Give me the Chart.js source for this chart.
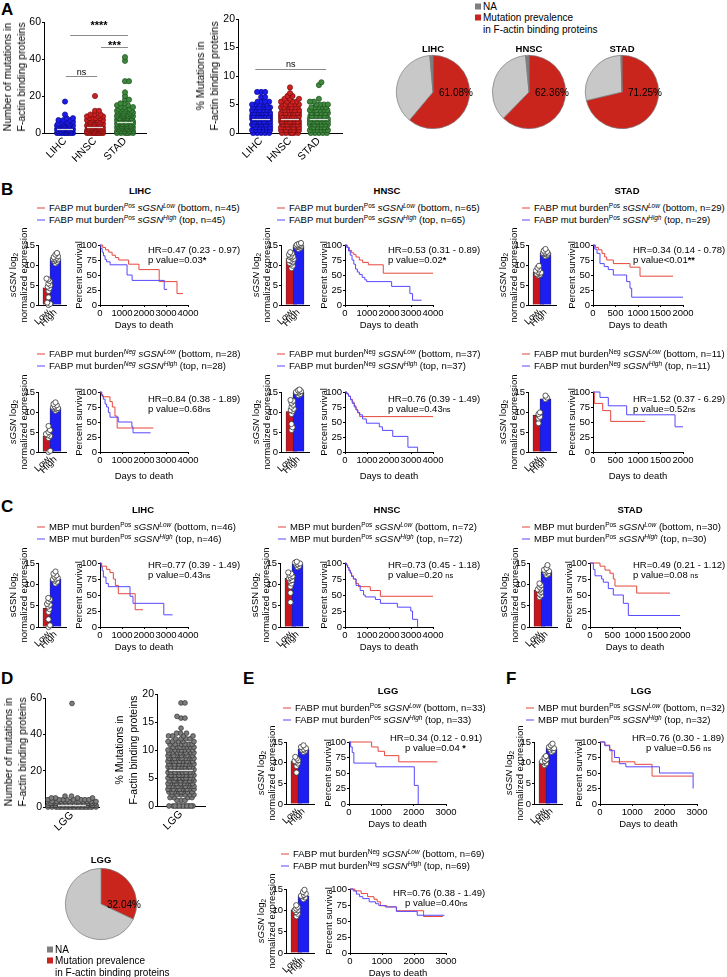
<!DOCTYPE html>
<html>
<head>
<meta charset="utf-8">
<script src="https://cdn.jsdelivr.net/npm/chart.js@4.4.1/dist/chart.umd.min.js"></script>
<style>
  body { margin: 0; background: #fff; }
  #page { position: relative; width: 727px; height: 977px; overflow: hidden; font-family: "Liberation Sans", Arial, Helvetica, sans-serif; color: #000; }
  #page canvas { position: absolute; }
  .t { position: absolute; white-space: nowrap; font-size: 9.5px; line-height: 11px; }
  .t sup { font-size: 6.5px; line-height: 0; vertical-align: 3px; }
  .t sub { font-size: 6.5px; line-height: 0; vertical-align: -2px; }
  .sw { display: inline-block; width: 8px; height: 1px; vertical-align: middle; margin-right: 4px; }
  .sq { display: inline-block; width: 6px; height: 6px; margin-right: 2px; }
  .b { font-weight: bold; }
  .L { font-weight: bold; font-size: 17px; line-height: 17px; }
  .ns { font-size: 7.5px; }
  .st { font-weight: bold; font-size: 9px; }
</style>
</head>
<body>
<div id="page"></div>
<script>
// ---------- data ----------
// panel A: number of mutations (value, how many samples)
const catsA = ['LIHC', 'HNSC', 'STAD'];
const lihcMutCounts = [[0,10],[1,14],[2,13],[3,11],[4,8],[5,6],[6,4],[7,3],[8,2],[10,1],[17,1]];
const hnscMutCounts = [[0,12],[1,18],[2,16],[3,14],[4,11],[5,8],[6,6],[7,5],[8,4],[9,3],[10,3],[12,2],[20,1]];
const stadMutCounts = [[0,6],[1,10],[2,11],[3,12],[4,12],[5,11],[6,10],[7,9],[8,8],[9,7],[10,7],[11,6],[12,5],[13,4],[14,3],[15,2],[16,2],[18,2],[20,1],[22,1],[28,2],[39,1],[41,1]];
// panel A: % mutations
const lihcPctCounts = [[0,5],[0.5,6],[1,10],[1.5,12],[2,14],[2.5,14],[3,13],[3.5,12],[4,9],[4.5,7],[5,5],[5.5,4],[6.3,2],[7.2,3]];
const hnscPctCounts = [[0,6],[0.5,8],[1,12],[1.5,14],[2,15],[2.5,15],[3,14],[3.5,12],[4,10],[4.5,8],[5,6],[5.5,4],[6,3],[6.5,2],[7,1],[8,1]];
const stadPctCounts = [[0,5],[0.5,6],[1,9],[1.5,10],[2,11],[2.5,10],[3,9],[3.5,8],[4,6],[4.5,5],[5,4],[5.5,2],[6,1],[8.4,1],[8.9,1]];
// pies: mutation prevalence, no mutation, NA
const pieLabels = ['Mutation prevalence', 'No mutation', 'NA'];
const pieLihc = [61.08, 37.52, 1.40];
const pieHnsc = [62.36, 36.14, 1.50];
const pieStad = [71.25, 28.25, 0.50];
const pieLgg = [32.04, 67.96, 0];
// panel D (LGG)
const catsD = ['LGG'];
const lggMutCounts = [[0,22],[1,30],[2,22],[3,14],[4,8],[5,4],[6,2],[57,1]];
const lggPctCounts = [[0,12],[1,3],[1.5,4],[2,6],[2.5,8],[3,10],[3.5,10],[4,11],[4.5,12],[5,13],[5.5,13],[6,13],[6.5,13],[7,13],[7.5,12],[8,12],[8.5,11],[9,10],[9.5,8],[10,8],[10.5,7],[11,6],[11.5,5],[12,4],[12.5,4],[13,3],[13.9,1],[15.7,2],[16,1],[18.4,2]];

// sGSN expression: bar means [Low, High] and individual samples
const barLabels = ['Low', 'High'];
const b1LihcMeans = [4.3, 11.5];
const b1LihcLow = [0,0.3,0.6,1.9,3.5,4.2,4.6,5,5.4,6,6.4,6.6];
const b1LihcHigh = [10.4,10.8,11,11.2,11.4,11.5,11.6,11.8,12,12.2,12.6,13];
const b1HnscMeans = [11.6, 14.8];
const b1HnscLow = [9.2,9.8,10.3,10.5,10.8,11,11.2,11.5,11.8,12,12.1,12.3,12.6,12.9,13.2];
const b1HnscHigh = [14,14.3,14.5,14.6,14.7,14.8,14.9,15,15.1,15.3,15.5];
const b1StadMeans = [8.2, 12.9];
const b1StadLow = [7.4,7.6,7.8,8,8.1,8.3,8.6,8.9,9.3,9.8];
const b1StadHigh = [12.2,12.5,12.7,12.8,12.9,13,13.1,13.3,13.6,14];
const b2LihcMeans = [4.0, 11.0];
const b2LihcLow = [0,0.3,3.5,4,4.2,4.5,5,5.5,6.5];
const b2LihcHigh = [10.3,10.6,10.8,10.9,11,11.2,11.4,11.7,12,12.4];
const b2HnscMeans = [10.1, 15.0];
const b2HnscLow = [5.5,6.2,7,9.5,10.2,10.5,10.8,11.3,11.8,12.3,12.8,13];
const b2HnscHigh = [14.2,14.5,14.8,14.9,15,15.2,15.4,15.6];
const b2StadMeans = [9.2, 13.3];
const b2StadLow = [7.2,8.4,8.8,9.5,9.9];
const b2StadHigh = [13.2,13.6,14.1];
const cLihcMeans = [4.4, 11.3];
const cLihcLow = [0,0.4,1.8,3.5,4.2,4.8,5.2,5.4,6,6.5,6.8];
const cLihcHigh = [10.2,10.6,10.9,11.2,11.3,11.5,11.8,12.1,12.5,13];
const cHnscMeans = [11.4, 14.8];
const cHnscLow = [5.8,8,9.5,10.2,10.8,11,11.4,11.6,11.9,12.2,12.5,12.8];
const cHnscHigh = [14,14.3,14.6,14.7,14.9,15.1,15.3];
const cStadMeans = [8.6, 13.0];
const cStadLow = [7,7.4,7.8,8.2,8.6,8.8,9,9.4,9.8,10.2];
const cStadHigh = [12.2,12.5,12.8,13,13.1,13.4,13.8,14.5];
const eTopMeans = [10.4, 13.2];
const eTopLow = [7.6,9.2,9.8,10.2,10.4,10.6,11,11.4];
const eTopHigh = [12.6,12.9,13.1,13.2,13.5,13.8,14.2];
const eBotMeans = [10.1, 13.4];
const eBotLow = [8.6,9.2,9.6,10,10.1,10.4,10.8,11.2];
const eBotHigh = [12.6,13,13.3,13.4,13.6,13.9,14.3,14.8];
const fMeans = [10.3, 13.5];
const fLow = [9.4,9.8,10.1,10.3,10.4,10.8,11.2,11.6];
const fHigh = [12.6,12.9,13.2,13.5,13.5,13.8,14.2,14.6];

// Kaplan-Meier steps [days, percent survival]
const kmB1LihcLow = [[0,100],[120,96],[250,92],[400,88],[550,83],[700,79],[850,75],[1300,68],[1770,59],[2690,39],[3500,19],[3770,19]];
const kmB1LihcHigh = [[0,100],[40,94],[100,88],[160,82],[230,76],[300,72],[460,67],[1230,50],[1460,41],[2920,26],[3050,26]];
const kmB1HnscLow = [[0,100],[100,96],[200,91],[300,87],[400,84],[500,80],[650,75],[800,71],[1060,67],[1740,53],[4000,53]];
const kmB1HnscHigh = [[0,100],[80,96],[160,90],[240,83],[320,75],[400,68],[480,60],[560,55],[650,51],[780,46],[900,42],[985,39],[2120,31],[2950,19],[3070,8],[3480,8]];
const kmB1StadLow = [[0,100],[50,96],[120,92],[200,86],[260,80],[304,75],[452,69],[822,63],[1045,48],[1780,48]];
const kmB1StadHigh = [[0,100],[40,93],[90,86],[155,69],[250,64],[340,59],[452,50],[748,39],[822,28],[860,13],[2000,13]];
const kmB2LihcLow = [[0,100],[60,96],[120,92],[455,84],[560,75],[680,60],[780,40],[2420,40]];
const kmB2LihcHigh = [[0,100],[80,94],[150,88],[230,80],[300,75],[380,66],[455,58],[830,50],[1450,42],[1500,32],[2300,32]];
const kmB2HnscLow = [[0,100],[80,97],[160,93],[250,88],[330,83],[420,77],[500,71],[580,65],[667,59],[4000,59]];
const kmB2HnscHigh = [[0,100],[80,97],[160,93],[250,87],[330,81],[420,75],[500,70],[580,66],[667,62],[800,55],[970,48],[1560,42],[1700,36],[2170,26],[2860,8],[3300,0]];
const kmB2StadLow = [[0,100],[30,81],[215,69],[393,51],[1156,51]];
const kmB2StadHigh = [[0,100],[155,91],[340,77],[748,62],[1823,42],[2000,42]];
const kmCLihcLow = [[0,100],[76,95],[303,90],[455,85],[606,75],[700,65],[833,52],[1600,27],[1950,27]];
const kmCLihcHigh = [[0,100],[50,94],[100,88],[152,78],[273,68],[379,63],[1364,48],[1500,37],[2900,19],[3300,19]];
const kmCHnscLow = [[0,100],[60,97],[120,93],[180,89],[240,85],[300,80],[383,75],[500,68],[613,63],[1150,57],[1610,48],[4000,48]];
const kmCHnscHigh = [[0,100],[60,97],[120,93],[180,88],[240,84],[300,79],[383,75],[500,65],[690,57],[843,50],[920,47],[1380,43],[1610,37],[2380,31],[2990,25],[3070,12],[3300,0]];
const kmCStadLow = [[0,100],[222,95],[333,89],[444,84],[518,75],[555,64],[1037,53],[1778,53]];
const kmCStadHigh = [[0,100],[74,90],[111,80],[259,75],[296,70],[407,60],[518,50],[741,37],[852,18],[2000,18]];
const kmETopLow = [[0,100],[600,100],[700,92],[900,85],[1100,78],[1540,68],[2730,68]];
const kmETopHigh = [[0,100],[50,92],[100,83],[150,66],[830,60],[2020,30],[2140,0]];
const kmEBotLow = [[0,100],[150,97],[350,93],[550,88],[750,84],[850,80],[950,74],[1150,72],[1450,66],[2300,57],[2900,57]];
const kmEBotHigh = [[0,100],[100,97],[200,92],[300,88],[400,85],[600,80],[800,77],[900,74],[1100,72],[1450,65],[2100,59],[2950,59]];
const kmFLow = [[0,100],[150,95],[300,88],[370,68],[1080,64],[1610,45],[2870,45]];
const kmFHigh = [[0,100],[150,94],[300,86],[450,75],[600,65],[800,60],[1840,50],[2870,50],[2880,25]];

// ---------- style ----------
const RED_BAR = '#c9161e', BLUE_BAR = '#1e1ef2';
const KM_RED = '#e5473d', KM_BLUE = '#5648ff';
const PIE_RED = '#c9251d', PIE_GREY = '#c8c8c8', PIE_NA = '#7f7f7f';
const DOT_FILL = ['#1c1cf0', '#d02020', '#3d8a3d'], DOT_EDGE = ['#0a0a80', '#701010', '#1e4d1e'];

Chart.defaults.font.family = '"Liberation Sans", Arial, Helvetica, sans-serif';
Chart.defaults.font.size = 9.5;
Chart.defaults.color = '#000';

const page = document.getElementById('page');
const PAD_T = 14, PAD_R = 26;

function T(x, y, html, o) {
  o = o || {};
  const d = document.createElement('div');
  d.className = 't' + (o.cls ? ' ' + o.cls : '');
  d.innerHTML = html;
  d.style.left = x + 'px';
  d.style.top = y + 'px';
  const tx = o.a === 'c' ? '-50%' : o.a === 'r' ? '-100%' : '0';
  d.style.transform = 'translate(' + tx + ',-50%)' + (o.rot ? ' rotate(' + o.rot + 'deg)' : '');
  if (o.size) d.style.fontSize = o.size + 'px';
  if (o.lh) d.style.lineHeight = o.lh + 'px';
  if (o.center) d.style.textAlign = 'center';
  page.appendChild(d);
  return d;
}

function expand(counts) {
  const out = [];
  counts.forEach(([v, n]) => { for (let i = 0; i < n; i++) out.push(v); });
  return out;
}
function median(vals) {
  const s = vals.slice().sort((a, b) => a - b), m = s.length >> 1;
  return s.length % 2 ? s[m] : (s[m - 1] + s[m]) / 2;
}

// horizontal spread of points so they do not sit on top of each other (pixel offsets)
function swarm(values, pxY, minDist, maxHalf) {
  const order = values.map((v, i) => i).sort((a, b) => values[a] - values[b]);
  const steps = [0];
  for (let s = 0.5; s <= maxHalf; s += 0.5) steps.push(s, -s);
  const placed = [], out = new Array(values.length).fill(0);
  order.forEach(i => {
    const y = values[i] * pxY;
    let best = 0, bestD = -1;
    for (const dx of steps) {
      let md = Infinity;
      for (const p of placed) {
        if (Math.abs(p.y - y) >= minDist) continue;
        const d = Math.hypot(p.x - dx, p.y - y);
        if (d < md) md = d;
      }
      if (md >= minDist) { best = dx; break; }
      if (md > bestD) { bestD = md; best = dx; }
    }
    placed.push({ x: best, y: y });
    out[i] = best;
  });
  return out;
}

function frame(plotL, plotT, plotW, plotH, yW, xH) {
  const c = document.createElement('canvas');
  c.width = yW + plotW + PAD_R;
  c.height = PAD_T + plotH + xH;
  c.style.left = (plotL - yW) + 'px';
  c.style.top = (plotT - PAD_T) + 'px';
  page.appendChild(c);
  return c;
}

function baseOpts() {
  return {
    responsive: false, animation: false, events: [],
    layout: { autoPadding: false, padding: { top: PAD_T, right: PAD_R, left: 0, bottom: 0 } },
    plugins: { legend: { display: false }, tooltip: { enabled: false } }
  };
}

function yAxis(min, max, step, yW, size) {
  return {
    type: 'linear', min: min, max: max,
    ticks: { stepSize: step, padding: 1, font: { size: size || 9.5 }, color: '#000', callback: v => String(v) },
    grid: { drawOnChartArea: false, drawTicks: true, tickLength: 2, color: '#000' },
    border: { color: '#000', width: 1 },
    afterFit: s => { s.width = yW; }
  };
}

function catAxis(min, max, cats, xH, size) {
  return {
    type: 'linear', min: min, max: max,
    afterBuildTicks: s => { s.ticks = cats.map((c, i) => ({ value: i })); },
    ticks: { callback: v => cats[v], minRotation: 45, maxRotation: 45, autoSkip: false, padding: 2, font: { size: size || 9.5 }, color: '#000' },
    grid: { drawOnChartArea: false, drawTicks: false },
    border: { color: '#000', width: 1 },
    afterFit: s => { s.height = xH; }
  };
}

// significance brackets and median lines drawn in data coordinates
const bracketPlugin = {
  id: 'brackets',
  afterDatasetsDraw(chart, args, opts) {
    const ctx = chart.ctx, x = chart.scales.x, y = chart.scales.y;
    ctx.save();
    (opts.medians || []).forEach((m, i) => {
      const yy = Math.round(y.getPixelForValue(m)) + 0.5;
      ctx.strokeStyle = 'rgba(235,235,235,0.9)';
      ctx.lineWidth = 1.2;
      ctx.beginPath();
      ctx.moveTo(x.getPixelForValue(i) - opts.medianHalf, yy);
      ctx.lineTo(x.getPixelForValue(i) + opts.medianHalf, yy);
      ctx.stroke();
    });
    (opts.items || []).forEach(b => {
      const x1 = x.getPixelForValue(b.from), x2 = x.getPixelForValue(b.to);
      const yy = Math.round(y.getPixelForValue(b.at)) + 0.5;
      ctx.strokeStyle = '#8a8a8a';
      ctx.lineWidth = 1;
      ctx.beginPath(); ctx.moveTo(x1, yy); ctx.lineTo(x2, yy); ctx.stroke();
      ctx.fillStyle = '#000';
      ctx.font = (b.text === 'ns' ? '9px' : 'bold 11px') + ' "Liberation Sans", Arial, sans-serif';
      ctx.textAlign = 'center';
      ctx.textBaseline = 'alphabetic';
      ctx.fillText(b.text, (x1 + x2) / 2, yy + b.off);
    });
    ctx.restore();
  }
};

function dotPanel(p, cats, groups, fills, edges, brackets) {
  const yW = 30, xH = 40;
  const c = frame(p.l, p.t, p.w, p.h, yW, xH);
  const pxY = p.h / p.yMax, pxX = p.w / (p.xMax - p.xMin);
  const datasets = groups.map((vals, gi) => {
    const off = swarm(vals, pxY, p.dist, p.half);
    return {
      type: 'scatter',
      data: vals.map((v, i) => ({ x: gi + off[i] / pxX, y: v })),
      backgroundColor: fills[gi], borderColor: edges[gi], borderWidth: 0.7,
      pointRadius: p.r, clip: false
    };
  });
  const o = baseOpts();
  o.scales = { x: catAxis(p.xMin, p.xMax, cats, xH, 10.5), y: yAxis(0, p.yMax, p.yStep, yW, 10.5) };
  o.plugins.brackets = { items: brackets || [], medians: groups.map(median), medianHalf: p.mh };
  new Chart(c, { type: 'scatter', data: { datasets: datasets }, options: o, plugins: [bracketPlugin] });
}

function barPanel(l, t, h, means, low, high) {
  const yW = 22, xH = 30, w = 28;
  const c = frame(l, t, w, h, yW, xH);
  const pxY = h / 15, pxX = 14;
  const offL = swarm(low, pxY, 3.4, 5), offH = swarm(high, pxY, 3.4, 5);
  const pts = (vals, off, i) => vals.map((v, k) => ({ x: i + off[k] / pxX, y: v }));
  const dotStyle = { type: 'scatter', backgroundColor: '#fff', borderColor: '#333', borderWidth: 0.8, pointRadius: 2.6, clip: false, order: 0 };
  const o = baseOpts();
  o.scales = {
    x: catAxis(-0.5, 1.5, barLabels, xH, 9.5),
    y: yAxis(0, 15, 5, yW)
  };
  new Chart(c, {
    type: 'bar',
    data: {
      datasets: [
        Object.assign({ data: pts(low, offL, 0) }, dotStyle),
        Object.assign({ data: pts(high, offH, 1) }, dotStyle),
        { type: 'bar', data: means.map((m, i) => ({ x: i, y: m })), backgroundColor: [RED_BAR, BLUE_BAR],
          borderColor: '#222', borderWidth: 0.6, barThickness: 11, order: 2 }
      ]
    },
    options: o
  });
}

function kmPanel(l, t, w, h, xMax, xStep, low, high) {
  const yW = 28, xH = 16;
  const c = frame(l, t, w, h, yW, xH);
  const line = (d, col) => ({ data: d.map(p => ({ x: p[0], y: p[1] })), stepped: true, borderColor: col,
    borderWidth: 1, pointRadius: 0, fill: false, clip: 3 });
  const o = baseOpts();
  o.scales = {
    x: {
      type: 'linear', min: 0, max: xMax,
      ticks: { stepSize: xStep, autoSkip: false, minRotation: 0, maxRotation: 0, padding: 1, color: '#000', callback: v => String(v) },
      grid: { drawOnChartArea: false, drawTicks: true, tickLength: 2, color: '#000' },
      border: { color: '#000', width: 1 },
      afterFit: s => { s.height = xH; }
    },
    y: yAxis(0, 100, 25, yW)
  };
  new Chart(c, { type: 'line', data: { datasets: [line(high, KM_BLUE), line(low, KM_RED)] }, options: o });
}

function legendHtml(col, marker, burden, level, group, n, ital) {
  const bd = ital ? '<i>' + burden + '</i>' : burden;
  return '<span class="sw" style="background:' + col + '"></span>' + marker + ' mut burden<sup>' + bd +
    '</sup> <i>sGSN</i><sup><i>' + level + '</i></sup> (' + group + ', n=' + n + ')';
}
function sigHtml(s) {
  if (s.indexOf('ns') >= 0) return s.replace('ns', '<span class="ns">ns</span>');
  return '<span class="st">' + s + '</span>';
}

const TITLE_B = '<i>sGSN</i> log<sub>2</sub><br>normalized expression';
const TITLE_C = 'sGSN log<sub>2</sub><br>normalized expression';

function kmBlock(b) {
  if (b.title) T(b.tx, b.ty, b.title, { a: 'c', cls: 'b' });
  T(b.lx, b.ly, legendHtml(KM_RED, b.marker, b.burden, 'Low', 'bottom', b.n, b.ital));
  T(b.lx, b.ly + 12, legendHtml(KM_BLUE, b.marker, b.burden, 'High', 'top', b.n, b.ital));
  barPanel(b.barL, b.top, b.h, b.means, b.low, b.high);
  kmPanel(b.kmL, b.top, b.kmW, b.h, b.xMax, b.xStep, b.kmLow, b.kmHigh);
  T(b.barL - 20, b.top + b.h / 2, b.barTitle, { a: 'c', rot: -90, center: true });
  T(b.kmL - 22, b.top + b.h / 2, 'Percent survival', { a: 'c', rot: -90 });
  T(b.kmL + b.kmW / 2, b.top + b.h + (b.daysDy || 19), 'Days to death', { a: 'c' });
  T(b.hrX, b.hrY, b.hr);
  T(b.pX || b.hrX, b.hrY + 11, 'p value' + b.pv + sigHtml(b.sig));
}

function piePanel(cx, cy, r, vals, title, titleY) {
  const s = 2 * r + 4;
  const c = document.createElement('canvas');
  c.width = s; c.height = s;
  c.style.left = (cx - s / 2) + 'px';
  c.style.top = (cy - s / 2) + 'px';
  page.appendChild(c);
  new Chart(c, {
    type: 'pie',
    data: { labels: pieLabels, datasets: [{ data: vals, backgroundColor: [PIE_RED, PIE_GREY, PIE_NA], borderColor: '#7a7a7a', borderWidth: 0.7 }] },
    options: { responsive: false, animation: false, events: [], layout: { padding: 2 },
      plugins: { legend: { display: false }, tooltip: { enabled: false } } }
  });
  T(cx, titleY, title, { a: 'c', cls: 'b' });
  T(cx + 6, cy, vals[0].toFixed(2) + '%', { size: 10 });
}

// ---------- panel letters ----------
T(1, 9, 'A', { cls: 'L' });
T(1, 189, 'B', { cls: 'L' });
T(1, 506, 'C', { cls: 'L' });
T(1, 678, 'D', { cls: 'L' });
T(243, 678, 'E', { cls: 'L' });
T(506, 678, 'F', { cls: 'L' });

// ---------- panel A ----------
dotPanel({ l: 44, t: 22, w: 102, h: 111, yMax: 60, yStep: 20, xMin: -0.7, xMax: 2.7, dist: 3.6, half: 8, r: 2.6, mh: 8 },
  catsA, [expand(lihcMutCounts), expand(hnscMutCounts), expand(stadMutCounts)], DOT_FILL, DOT_EDGE,
  [{ from: 0.17, to: 2.1, at: 53, text: '****', off: -7 },
   { from: 1.2, to: 2.1, at: 46.5, text: '***', off: 1 },
   { from: 0.03, to: 1.07, at: 30.8, text: 'ns', off: -2 }]);
T(14, 77, 'Number of mutations in<br>F-actin binding proteins', { a: 'c', rot: -90, center: true, size: 10.5, lh: 14 });

dotPanel({ l: 238, t: 19, w: 104, h: 114, yMax: 20, yStep: 5, xMin: -0.8, xMax: 2.8, dist: 3.6, half: 9, r: 2.6, mh: 9 },
  catsA, [expand(lihcPctCounts), expand(hnscPctCounts), expand(stadPctCounts)], DOT_FILL, DOT_EDGE,
  [{ from: -0.2, to: 2.25, at: 11.2, text: 'ns', off: -3 }]);
T(207, 76, '% Mutations in<br>F-actin binding proteins', { a: 'c', rot: -90, center: true, size: 10.5, lh: 14 });

T(475, 6, '<span class="sq" style="background:' + PIE_NA + '"></span>NA', { size: 10 });
T(475, 17, '<span class="sq" style="background:' + PIE_RED + '"></span>Mutation prevalence', { size: 10 });
T(483, 29, 'in F-actin binding proteins', { size: 10 });
piePanel(433, 92, 37, pieLihc, 'LIHC', 48);
piePanel(529, 92, 37, pieHnsc, 'HNSC', 48);
piePanel(622, 92, 37, pieStad, 'STAD', 48);

// ---------- panel B (FABP mut burden) ----------
const colX = { lihc: { bar: 38, km: 100, w: 88, leg: 37, hr: 148, title: 140 },
               hnsc: { bar: 281, km: 345, w: 88, leg: 277, hr: 388, title: 387 },
               stad: { bar: 528, km: 593, w: 90, leg: 522, hr: 633, title: 627 } };

kmBlock({ title: 'LIHC', tx: colX.lihc.title, ty: 190, lx: colX.lihc.leg, ly: 207, marker: 'FABP', burden: 'Pos', ital: true, n: 45,
  barL: colX.lihc.bar, kmL: colX.lihc.km, kmW: colX.lihc.w, top: 245, h: 60, xMax: 4000, xStep: 1000,
  means: b1LihcMeans, low: b1LihcLow, high: b1LihcHigh, kmLow: kmB1LihcLow, kmHigh: kmB1LihcHigh,
  hr: 'HR=0.47 (0.23 - 0.97)', pv: '=0.03', sig: '*', hrX: colX.lihc.hr, hrY: 249, barTitle: TITLE_B });
kmBlock({ title: 'HNSC', tx: colX.hnsc.title, ty: 190, lx: colX.hnsc.leg, ly: 207, marker: 'FABP', burden: 'Pos', n: 65,
  barL: colX.hnsc.bar, kmL: colX.hnsc.km, kmW: colX.hnsc.w, top: 245, h: 60, xMax: 4000, xStep: 1000,
  means: b1HnscMeans, low: b1HnscLow, high: b1HnscHigh, kmLow: kmB1HnscLow, kmHigh: kmB1HnscHigh,
  hr: 'HR=0.53 (0.31 - 0.89)', pv: '=0.02', sig: '*', hrX: colX.hnsc.hr, hrY: 249, barTitle: TITLE_B });
kmBlock({ title: 'STAD', tx: colX.stad.title, ty: 190, lx: colX.stad.leg, ly: 207, marker: 'FABP', burden: 'Pos', n: 29,
  barL: colX.stad.bar, kmL: colX.stad.km, kmW: colX.stad.w, top: 245, h: 60, xMax: 2000, xStep: 500,
  means: b1StadMeans, low: b1StadLow, high: b1StadHigh, kmLow: kmB1StadLow, kmHigh: kmB1StadHigh,
  hr: 'HR=0.34 (0.14 - 0.78)', pv: '<0.01', sig: '**', hrX: colX.stad.hr, hrY: 249, barTitle: TITLE_B });

kmBlock({ lx: colX.lihc.leg, ly: 353, marker: 'FABP', burden: 'Neg', ital: true, n: 28,
  barL: colX.lihc.bar, kmL: colX.lihc.km, kmW: colX.lihc.w, top: 392, h: 60, xMax: 4000, xStep: 1000, daysDy: 23,
  means: b2LihcMeans, low: b2LihcLow, high: b2LihcHigh, kmLow: kmB2LihcLow, kmHigh: kmB2LihcHigh,
  hr: 'HR=0.84 (0.38 - 1.89)', pv: '=0.68', sig: 'ns', hrX: colX.lihc.hr, hrY: 398, barTitle: TITLE_B });
kmBlock({ lx: colX.hnsc.leg, ly: 353, marker: 'FABP', burden: 'Neg', n: 37,
  barL: colX.hnsc.bar, kmL: colX.hnsc.km, kmW: colX.hnsc.w, top: 392, h: 60, xMax: 4000, xStep: 1000, daysDy: 23,
  means: b2HnscMeans, low: b2HnscLow, high: b2HnscHigh, kmLow: kmB2HnscLow, kmHigh: kmB2HnscHigh,
  hr: 'HR=0.76 (0.39 - 1.49)', pv: '=0.43', sig: 'ns', hrX: colX.hnsc.hr, hrY: 398, barTitle: TITLE_B });
kmBlock({ lx: colX.stad.leg, ly: 353, marker: 'FABP', burden: 'Neg', n: 11,
  barL: colX.stad.bar, kmL: colX.stad.km, kmW: colX.stad.w, top: 392, h: 60, xMax: 2000, xStep: 500, daysDy: 23,
  means: b2StadMeans, low: b2StadLow, high: b2StadHigh, kmLow: kmB2StadLow, kmHigh: kmB2StadHigh,
  hr: 'HR=1.52 (0.37 - 6.29)', pv: '=0.52', sig: 'ns', hrX: colX.stad.hr, hrY: 398, barTitle: TITLE_B });

// ---------- panel C (MBP mut burden) ----------
kmBlock({ title: 'LIHC', tx: 143, ty: 509, lx: 37, ly: 526, marker: 'MBP', burden: 'Pos', n: 46,
  barL: 38, kmL: 100, kmW: 88, top: 563, h: 64, xMax: 4000, xStep: 1000,
  means: cLihcMeans, low: cLihcLow, high: cLihcHigh, kmLow: kmCLihcLow, kmHigh: kmCLihcHigh,
  hr: 'HR=0.77 (0.39 - 1.49)', pv: '=0.43', sig: 'ns', hrX: 148, hrY: 564, barTitle: TITLE_C });
kmBlock({ title: 'HNSC', tx: 387, ty: 509, lx: 278, ly: 526, marker: 'MBP', burden: 'Pos', n: 72,
  barL: 280, kmL: 345, kmW: 88, top: 563, h: 64, xMax: 4000, xStep: 1000,
  means: cHnscMeans, low: cHnscLow, high: cHnscHigh, kmLow: kmCHnscLow, kmHigh: kmCHnscHigh,
  hr: 'HR=0.73 (0.45 - 1.18)', pv: '=0.20 ', sig: 'ns', hrX: 388, hrY: 564, barTitle: TITLE_C });
kmBlock({ title: 'STAD', tx: 630, ty: 509, lx: 522, ly: 526, marker: 'MBP', burden: 'Pos', n: 30,
  barL: 529, kmL: 590, kmW: 90, top: 563, h: 64, xMax: 2000, xStep: 500,
  means: cStadMeans, low: cStadLow, high: cStadHigh, kmLow: kmCStadLow, kmHigh: kmCStadHigh,
  hr: 'HR=0.49 (0.21 - 1.12)', pv: '=0.08 ', sig: 'ns', hrX: 633, hrY: 564, barTitle: TITLE_C });

// ---------- panel D (LGG) ----------
dotPanel({ l: 45, t: 698, w: 54, h: 109, yMax: 60, yStep: 20, xMin: -1, xMax: 1, dist: 4, half: 24, r: 2.4, mh: 14 },
  catsD, [expand(lggMutCounts)], ['#7d7d7d'], ['#333'], []);
T(15, 752, 'Number of mutations in<br>F-actin binding proteins', { a: 'c', rot: -90, center: true, size: 10.5, lh: 14 });
dotPanel({ l: 157, t: 694, w: 48, h: 112, yMax: 20, yStep: 5, xMin: -1, xMax: 1, dist: 4, half: 13, r: 2.4, mh: 12 },
  catsD, [expand(lggPctCounts)], ['#7d7d7d'], ['#333'], []);
T(126, 750, '% Mutations in<br>F-actin binding proteins', { a: 'c', rot: -90, center: true, size: 10.5, lh: 14 });

piePanel(101, 904, 36, pieLgg, 'LGG', 859);
T(47, 949, '<span class="sq" style="background:' + PIE_NA + '"></span>NA', { size: 10 });
T(47, 960, '<span class="sq" style="background:' + PIE_RED + '"></span>Mutation prevalence', { size: 10 });
T(55, 972, 'in F-actin binding proteins', { size: 10 });

// ---------- panel E / F (LGG) ----------
kmBlock({ title: 'LGG', tx: 388, ty: 690, lx: 283, ly: 707, marker: 'FABP', burden: 'Pos', n: 33,
  barL: 286, kmL: 349, kmW: 97, top: 742, h: 62, xMax: 3000, xStep: 1000,
  means: eTopMeans, low: eTopLow, high: eTopHigh, kmLow: kmETopLow, kmHigh: kmETopHigh,
  hr: 'HR=0.34 (0.12 - 0.91)', pv: '=0.04 ', sig: '*', hrX: 390, pX: 405, hrY: 737, barTitle: TITLE_B });
kmBlock({ lx: 281, ly: 853, marker: 'FABP', burden: 'Neg', n: 69,
  barL: 286, kmL: 350, kmW: 96, top: 889, h: 64, xMax: 3000, xStep: 1000,
  means: eBotMeans, low: eBotLow, high: eBotHigh, kmLow: kmEBotLow, kmHigh: kmEBotHigh,
  hr: 'HR=0.76 (0.38 - 1.49)', pv: '=0.40', sig: 'ns', hrX: 393, pX: 405, hrY: 892, barTitle: TITLE_B });
kmBlock({ title: 'LGG', tx: 641, ty: 690, lx: 526, ly: 707, marker: 'MBP', burden: 'Pos', n: 32,
  barL: 534, kmL: 600, kmW: 97, top: 742, h: 62, xMax: 3000, xStep: 1000,
  means: fMeans, low: fLow, high: fHigh, kmLow: kmFLow, kmHigh: kmFHigh,
  hr: 'HR=0.76 (0.30 - 1.89)', pv: '=0.56 ', sig: 'ns', hrX: 632, pX: 646, hrY: 737, barTitle: TITLE_B });
</script>
</body>
</html>
